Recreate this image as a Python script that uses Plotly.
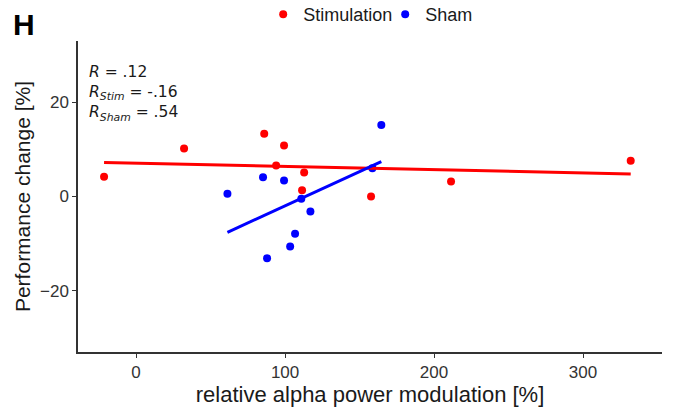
import numpy as np
import plotly.graph_objects as go

stim_x = [-21.5, 32.2, 86.0, 94.0, 99.3, 112.8, 111.4, 157.7, 211.4, 332.0]
stim_y = [4.2, 10.2, 13.3, 6.6, 10.8, 5.1, 1.3, 0.0, 3.2, 7.6]
sham_x = [61.3, 85.2, 99.3, 110.9, 117.0, 106.7, 103.4, 87.9, 158.6, 164.6]
sham_y = [0.6, 4.1, 3.4, -0.5, -3.2, -7.9, -10.6, -13.1, 6.0, 15.2]

x_ticks = [0, 100, 200, 300]
y_ticks = [-20, 0, 20]

RED = "#FF0000"
BLUE = "#0000FF"

fig = go.Figure()

def fit_line(xs, ys):
    xs = np.array(xs); ys = np.array(ys)
    b, a = np.polyfit(xs, ys, 1)
    lx = np.array([xs.min(), xs.max()])
    return lx, a + b * lx

for xs, ys, col, name in [(stim_x, stim_y, RED, "Stimulation"), (sham_x, sham_y, BLUE, "Sham")]:
    fig.add_trace(go.Scatter(x=xs, y=ys, mode="markers", name=name,
                             marker=dict(color=col, size=8)))

for xs, ys, col in [(stim_x, stim_y, RED), (sham_x, sham_y, BLUE)]:
    lx, ly = fit_line(xs, ys)
    fig.add_trace(go.Scatter(x=lx, y=ly, mode="lines", showlegend=False,
                             line=dict(color=col, width=3)))

FONT = "Liberation Sans, Arial, sans-serif"

fig.update_layout(
    width=677, height=408,
    margin=dict(l=78, r=15, t=41, b=56, autoexpand=False),
    plot_bgcolor="white", paper_bgcolor="white",
    font=dict(family=FONT, color="#1a1a1a"),
    legend=dict(orientation="h", x=0.526, xanchor="center", y=1.085, yanchor="middle",
                font=dict(size=18, color="#1a1a1a"), itemwidth=30,
                entrywidth=77, entrywidthmode="pixels",
                tracegroupgap=0),
    xaxis=dict(range=[-39, 353], tickvals=x_ticks, showgrid=False, zeroline=False,
               showline=True, linecolor="#333333", linewidth=1.5,
               ticks="outside", ticklen=4, tickcolor="#333333",
               tickfont=dict(size=17, color="#333333"),
               title=dict(text="relative alpha power modulation [%]", font=dict(size=22), standoff=4)),
    yaxis=dict(range=[-33, 33], tickvals=y_ticks, showgrid=False, zeroline=False,
               showline=True, linecolor="#333333", linewidth=1.5,
               ticks="outside", ticklen=4, tickcolor="#333333",
               tickfont=dict(size=17, color="#333333"),
               title=dict(text="Performance change [%]", font=dict(size=21), standoff=4)),
)

fig.add_annotation(text="<b>H</b>", xref="paper", yref="paper", x=-0.115, y=1.113,
                   xanchor="left", yanchor="top", showarrow=False,
                   font=dict(size=30, color="black", family=FONT))

fig.add_annotation(
    text="<i>R</i> = .12<br><i>R</i><sub><i>Stim</i></sub> = -.16<br><i>R</i><sub><i>Sham</i></sub> = .54",
    xref="paper", yref="paper", x=0.015, y=0.936, xanchor="left", yanchor="top",
    align="left", showarrow=False,
    font=dict(size=15.5, color="#1a1a1a", family="DejaVu Sans, Verdana, sans-serif"))

fig.write_html("out.html")
